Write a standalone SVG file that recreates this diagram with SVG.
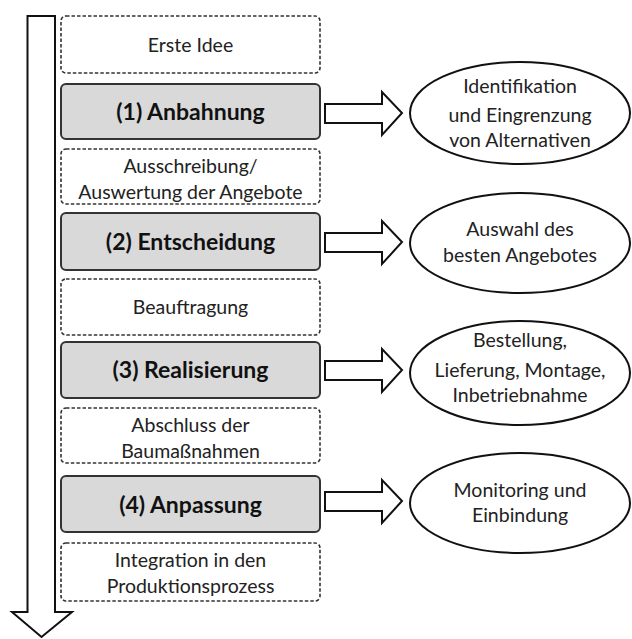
<svg xmlns="http://www.w3.org/2000/svg" width="632" height="639" viewBox="0 0 632 639">
<style>
.d{fill:#fff;stroke:#333;stroke-width:1.6;stroke-dasharray:3.5 2}
.s{fill:#d9d9d9;stroke:#333;stroke-width:2}
.t{font-family:Lato,"Open Sans",sans-serif;font-size:19.5px;fill:#222;text-anchor:middle}
.b{font-family:Lato,"Open Sans",sans-serif;font-size:23px;font-weight:bold;fill:#111;text-anchor:middle}
.e{fill:#fff;stroke:#111;stroke-width:2}
.a{fill:#fff;stroke:#111;stroke-width:2;stroke-linejoin:miter}
</style>
<rect width="632" height="639" fill="#fff"/>
<g id="timeline">
<path class="a" d="M27.5,16 H55 V612 H72 L41.5,637 L12,612 H27.5 Z"/>
</g>
<g id="erste-idee"><rect class="d" x="61" y="16" width="259" height="57" rx="5"/><text class="t" x="190.5" y="52">Erste Idee</text></g>
<g id="anbahnung"><rect class="s" x="61" y="84" width="259" height="55" rx="5"/><text class="b" x="190.5" y="120">(1) Anbahnung</text></g>
<g id="ausschreibung"><rect class="d" x="61" y="149" width="259" height="55" rx="5"/><text class="t" x="190.5" y="173">Ausschreibung/</text><text class="t" x="190.5" y="199">Auswertung der Angebote</text></g>
<g id="entscheidung"><rect class="s" x="61" y="213" width="259" height="57" rx="5"/><text class="b" x="190.5" y="250">(2) Entscheidung</text></g>
<g id="beauftragung"><rect class="d" x="61" y="279" width="259" height="56" rx="5"/><text class="t" x="190.5" y="314">Beauftragung</text></g>
<g id="realisierung"><rect class="s" x="61" y="342" width="259" height="56" rx="5"/><text class="b" x="190.5" y="378">(3) Realisierung</text></g>
<g id="abschluss"><rect class="d" x="61" y="408" width="259" height="55" rx="5"/><text class="t" x="190.5" y="432">Abschluss der</text><text class="t" x="190.5" y="458">Baumaßnahmen</text></g>
<g id="anpassung"><rect class="s" x="61" y="476" width="259" height="56" rx="5"/><text class="b" x="190.5" y="513">(4) Anpassung</text></g>
<g id="integration"><rect class="d" x="61" y="543" width="259" height="58" rx="5"/><text class="t" x="190.5" y="567">Integration in den</text><text class="t" x="190.5" y="593">Produktionsprozess</text></g>
<g id="connectors">
<path class="a" d="M325,104 H382 V92 L402,113 L382,135 V123 H325 Z"/>
<path class="a" d="M325,233 H382 V221 L402,242 L382,264 V252 H325 Z"/>
<path class="a" d="M325,361 H382 V349 L402,370 L382,392 V380 H325 Z"/>
<path class="a" d="M325,492 H382 V480 L402,501 L382,523 V511 H325 Z"/>
</g>
<g id="e1"><ellipse class="e" cx="520" cy="113" rx="110" ry="51"/><text class="t" x="520" y="93">Identifikation</text><text class="t" x="520" y="122">und Eingrenzung</text><text class="t" x="520" y="147">von Alternativen</text></g>
<g id="e2"><ellipse class="e" cx="520" cy="243" rx="110" ry="50"/><text class="t" x="520" y="236">Auswahl des</text><text class="t" x="520" y="262">besten Angebotes</text></g>
<g id="e3"><ellipse class="e" cx="520" cy="373" rx="110" ry="52"/><text class="t" x="520" y="347">Bestellung,</text><text class="t" x="520" y="377">Lieferung, Montage,</text><text class="t" x="520" y="402">Inbetriebnahme</text></g>
<g id="e4"><ellipse class="e" cx="520" cy="503" rx="110" ry="50"/><text class="t" x="520" y="497">Monitoring und</text><text class="t" x="520" y="522">Einbindung</text></g>
</svg>
